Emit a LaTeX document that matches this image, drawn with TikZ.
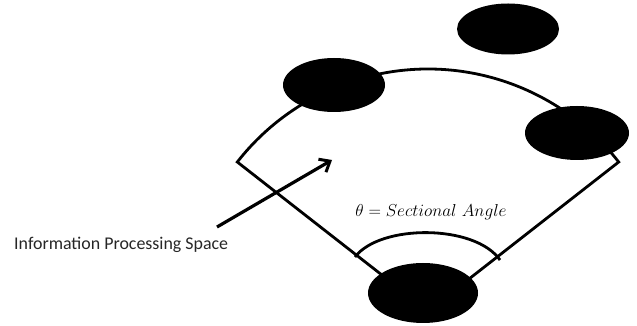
\documentclass[tikz,border=0pt]{standalone}
\usepackage{fontspec}
\newfontfamily\labelfont{Carlito}
\usetikzlibrary{shapes.geometric,arrows.meta}
\begin{document}
\begin{tikzpicture}[x=1pt,y=1pt,
  blob/.style={ellipse,fill=black,draw=none,inner sep=0pt,outer sep=0pt},
  edge/.style={line width=2.8pt,line join=miter},
  pointer/.style={line width=3.2pt,-{Straight Barb[length=9pt,width=15pt,line width=3pt]}}]
  \useasboundingbox (0,0) rectangle (637,326);
  % sector outline: apex hidden under the bottom blob
  \coordinate (apex) at (428,15);
  \path (apex) ++(142:242) coordinate (lc);
  \path (apex) ++(38:242) coordinate (rc);
  \draw[edge] (rc) -- (apex) -- (lc) arc[start angle=142,end angle=38,radius=242] -- cycle;
  % angle mark
  \coordinate (al) at (355,69);
  \coordinate (ar) at (500,66);
  \draw[line width=2.8pt] (al) .. controls (380,102) and (475,102) .. (ar);
  % blobs
  \node[blob,minimum width=102pt,minimum height=54pt] (ul) at (334,241) {};
  \node[blob,minimum width=102pt,minimum height=51pt] (tr) at (508,297) {};
  \node[blob,minimum width=104pt,minimum height=54pt] (rt) at (577,193) {};
  \node[blob,minimum width=110pt,minimum height=60pt] (bt) at (423,33) {};
  % labels
  \node[font=\labelfont\fontsize{17.9}{20}\selectfont,text=black!85,anchor=west,inner sep=0pt] (ips) at (14,81) {Information Processing Space};
  \node[font=\fontsize{17}{19}\selectfont,inner sep=0pt] (theta) at (431,114) {$\theta = Sectional\ Angle$};
  \coordinate (from) at (217,99);
  \coordinate (to) at (332,166);
  \draw[pointer] (from) -- (to);
\end{tikzpicture}
\end{document}
